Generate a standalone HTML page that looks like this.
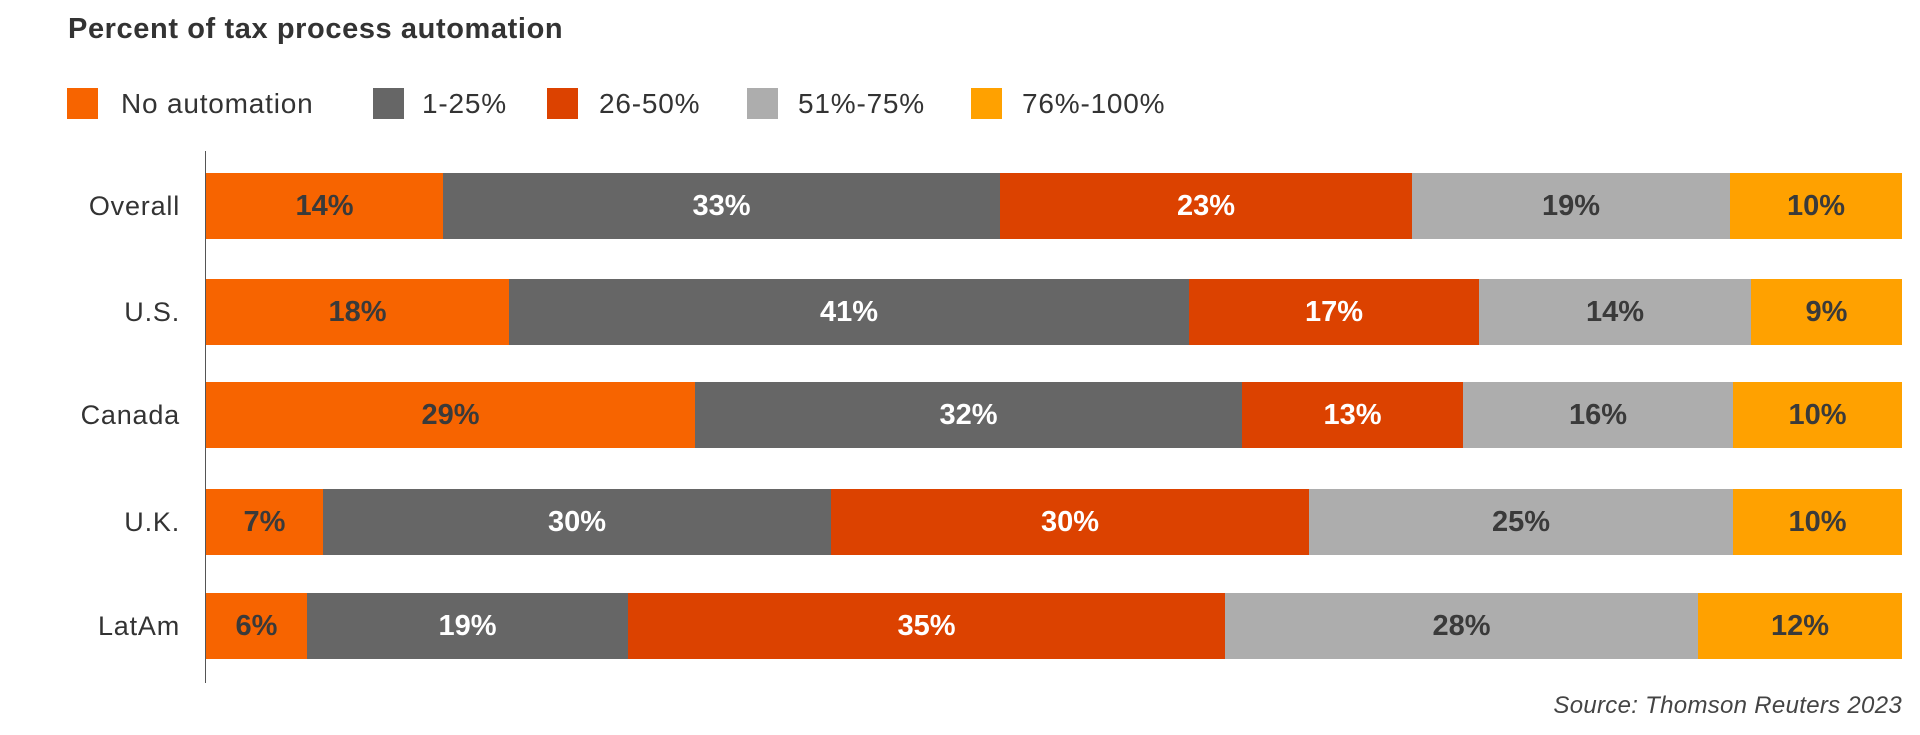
<!DOCTYPE html>
<html><head><style>
body{margin:0;width:1920px;height:735px;background:#fff;font-family:"Liberation Sans",sans-serif;position:relative;overflow:hidden}
.a{position:absolute}
.t{left:68px;top:13px;font-size:29px;font-weight:bold;color:#333;letter-spacing:0.6px}
.sq{width:31px;height:31px;top:88px}
.lt{top:88px;line-height:31px;font-size:28px;color:#333;letter-spacing:0.8px}
.cat{width:180px;left:0;text-align:right;font-size:27px;color:#333;letter-spacing:0.8px}
.s{display:flex;align-items:center;justify-content:center;font-weight:bold;font-size:29px}
</style></head><body>
<div class="a t">Percent of tax process automation</div>
<div class="a sq" style="left:67px;background:#f76400"></div><div class="a lt" style="left:121px">No automation</div>
<div class="a sq" style="left:373px;background:#666"></div><div class="a lt" style="left:422px">1-25%</div>
<div class="a sq" style="left:547px;background:#dc4200"></div><div class="a lt" style="left:599px">26-50%</div>
<div class="a sq" style="left:747px;background:#adadad"></div><div class="a lt" style="left:798px">51%-75%</div>
<div class="a sq" style="left:971px;background:#ffa100"></div><div class="a lt" style="left:1022px">76%-100%</div>
<div class="a" style="left:205px;top:151px;width:1px;height:532px;background:#555"></div>
<div id="c"></div>
<div class="a" style="right:18px;top:692px;font-size:24px;font-style:italic;color:#444;letter-spacing:0.3px">Source: Thomson Reuters 2023</div>
<script>
const rows=[["Overall",173,[443,1000,1412,1730],["14%","33%","23%","19%","10%"]],
["U.S.",279,[509,1189,1479,1751],["18%","41%","17%","14%","9%"]],
["Canada",382,[695,1242,1463,1733],["29%","32%","13%","16%","10%"]],
["U.K.",489,[323,831,1309,1733],["7%","30%","30%","25%","10%"]],
["LatAm",593,[307,628,1225,1698],["6%","19%","35%","28%","12%"]]];
const col=["#f76400","#666","#dc4200","#adadad","#ffa100"],tc=["#3a3a3a","#fff","#fff","#3a3a3a","#3a3a3a"];
let h="";
for(const [n,y,b,l] of rows){
h+=`<div class="a cat" style="top:${y}px;height:66px;line-height:66px">${n}</div>`;
const xs=[206,...b,1902];
for(let i=0;i<5;i++)h+=`<div class="a s" style="left:${xs[i]}px;top:${y}px;width:${xs[i+1]-xs[i]}px;height:66px;background:${col[i]};color:${tc[i]}">${l[i]}</div>`;
}
document.getElementById("c").innerHTML=h;
</script>
</body></html>
